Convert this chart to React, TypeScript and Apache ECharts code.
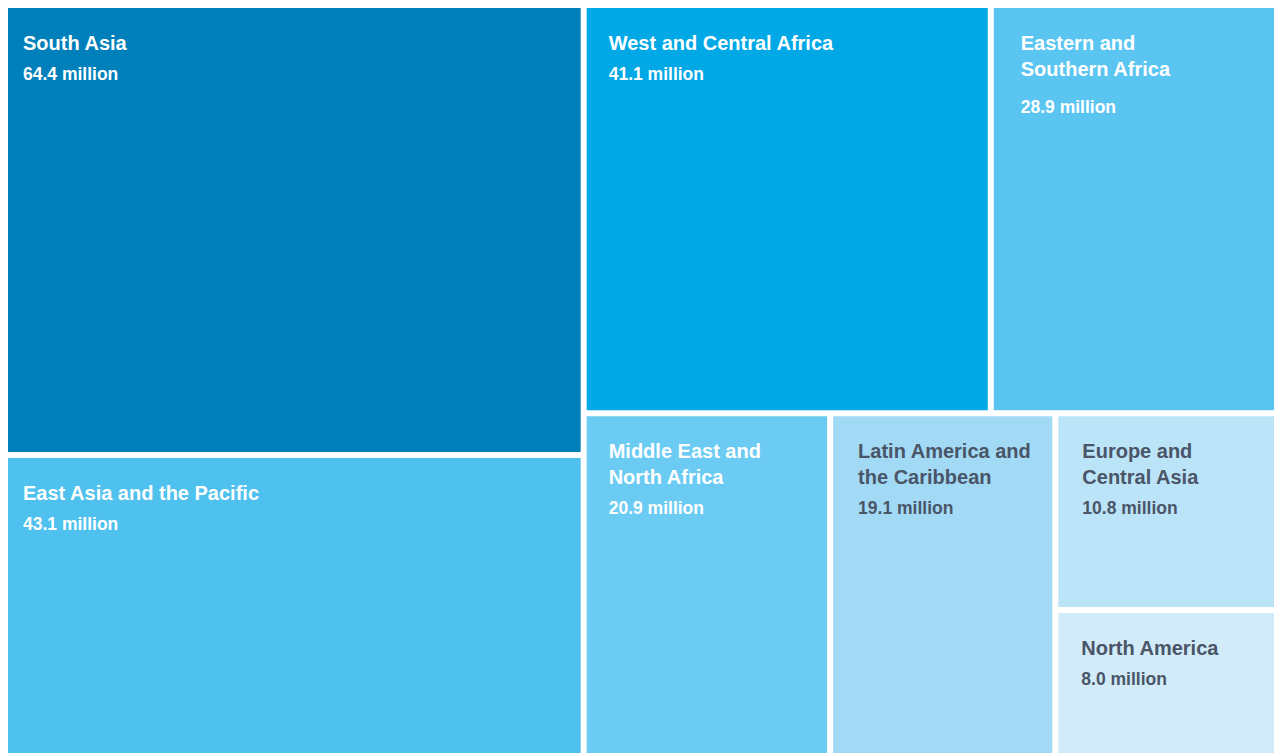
import React, { useEffect, useRef } from "react";
import * as echarts from "echarts";

// Regions (data) and their values in millions
const regions = [
  "South Asia",
  "East Asia and the Pacific",
  "West and Central Africa",
  "Eastern and Southern Africa",
  "Middle East and North Africa",
  "Latin America and the Caribbean",
  "Europe and Central Asia",
  "North America",
];
const valuesMillions = [64.4, 43.1, 41.1, 28.9, 20.9, 19.1, 10.8, 8.0];
// Label text as it is broken into lines in the chart
const displayNames = [
  "South Asia",
  "East Asia and the Pacific",
  "West and Central Africa",
  "Eastern and\nSouthern Africa",
  "Middle East and\nNorth Africa",
  "Latin America and\nthe Caribbean",
  "Europe and\nCentral Asia",
  "North America",
];
const unitLabel = "million";

// Styles
const fillColors = [
  "#0080BA",
  "#4FC1EE",
  "#00A8E6",
  "#5BC5F2",
  "#6BCBF3",
  "#A2DAF6",
  "#BCE4F8",
  "#D2EBF9",
];
const textColors = [
  "#FFFFFF",
  "#FFFFFF",
  "#FFFFFF",
  "#FFFFFF",
  "#FFFFFF",
  "#4A5568",
  "#4A5568",
  "#4A5568",
];
const padLeft = [15, 15, 22, 27, 22, 25, 24, 23];
const valueLineHeight = [36, 36, 36, 50, 36, 36, 36, 36];

const FONT = "'Liberation Sans', Arial, Helvetica, sans-serif";

export default function App() {
  const ref = useRef<HTMLDivElement>(null);

  useEffect(() => {
    if (!ref.current) return;
    const chart = echarts.init(ref.current, null, { renderer: "svg" });

    const data = regions.map((name, i) => ({
      name,
      value: valuesMillions[i],
      itemStyle: { color: fillColors[i] },
      label: {
        padding: [22, 0, 0, padLeft[i]],
        formatter: () =>
          `{n|${displayNames[i]}}\n{v|${valuesMillions[i].toFixed(1)} ${unitLabel}}`,
        rich: {
          n: {
            fontFamily: FONT,
            fontWeight: "bold",
            fontSize: 20,
            lineHeight: 26,
            color: textColors[i],
          },
          v: {
            fontFamily: FONT,
            fontWeight: "bold",
            fontSize: 17.5,
            lineHeight: valueLineHeight[i],
            color: textColors[i],
          },
        },
      },
    }));

    chart.setOption({
      animation: false,
      tooltip: { show: false },
      series: [
        {
          type: "treemap",
          left: 0,
          top: 0,
          right: 0,
          bottom: 0,
          roam: false,
          nodeClick: false,
          squareRatio: 1,
          breadcrumb: { show: false },
          sort: "desc",
          emphasis: { disabled: true },
          label: {
            show: true,
            position: "insideTopLeft",
            distance: 0,
            overflow: "none",
          },
          upperLabel: { show: false },
          levels: [
            { itemStyle: { gapWidth: 6, borderWidth: 0, borderColor: "#fff" } },
            { itemStyle: { borderWidth: 0, gapWidth: 0 } },
          ],
          data,
        },
      ],
    });

    return () => chart.dispose();
  }, []);

  return (
    <div
      ref={ref}
      style={{
        position: "absolute",
        left: 8,
        top: 8,
        width: 1266,
        height: 745,
        background: "#fff",
      }}
    />
  );
}
